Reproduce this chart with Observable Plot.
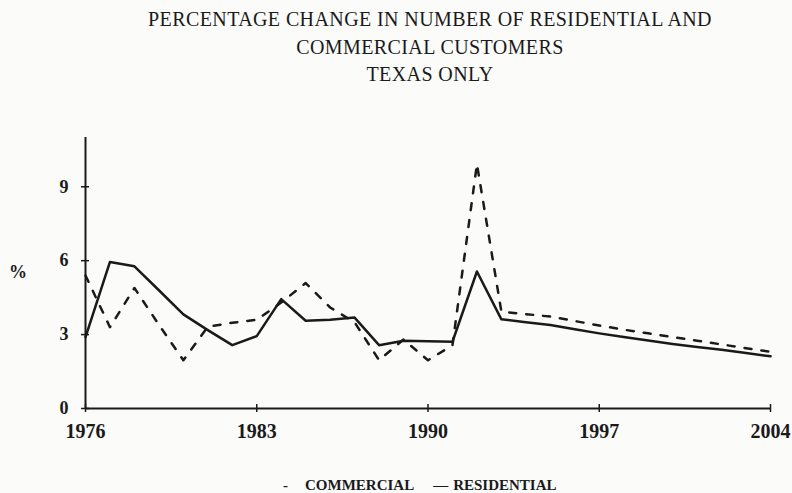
<!DOCTYPE html>
<html>
<head>
<meta charset="utf-8">
<script src="https://cdn.jsdelivr.net/npm/d3@7"></script>
<script src="https://cdn.jsdelivr.net/npm/@observablehq/plot@0.6"></script>
<style>
  html, body { margin: 0; padding: 0; background: #fbfbfa; }
  #wrap { position: relative; width: 792px; height: 493px; overflow: hidden; font-family: "Liberation Serif", "DejaVu Serif", serif; color: #1a1a1a; }
  #title { box-sizing: border-box; width: 792px; height: 90px; padding-top: 6px; padding-left: 68px; text-align: center; font-size: 20px; line-height: 27.5px; letter-spacing: 0.4px; }
  #pct { position: absolute; left: 9px; top: 262px; font-size: 18px; font-weight: bold; }
  #legend { position: absolute; left: 283px; top: 475px; font-size: 15px; font-weight: bold; line-height: 20px; white-space: nowrap; }
  #legend span { display: inline-block; }
</style>
</head>
<body>
<div id="wrap">
  <div id="title">PERCENTAGE CHANGE IN NUMBER OF RESIDENTIAL AND<br>COMMERCIAL CUSTOMERS<br>TEXAS ONLY</div>
  <div id="pct">%</div>
  <div id="chart"></div>
  <div id="legend"><span style="margin-right:17px">-</span><span style="margin-right:19px">COMMERCIAL</span><span style="margin-right:5px">—</span><span>RESIDENTIAL</span></div>
</div>
<script>
const years = [1976,1977,1978,1979,1980,1981,1982,1983,1984,1985,1986,1987,1988,1989,1990,1991,1992,1993,1994,1995,1996,1997,1998,1999,2000,2001,2002,2003,2004];
const residential = [2.9,5.95,5.77,4.8,3.82,3.18,2.57,2.94,4.44,3.56,3.6,3.69,2.57,2.75,2.73,2.71,5.56,3.62,3.5,3.39,3.22,3.05,2.9,2.76,2.62,2.5,2.38,2.25,2.12];
const commercial = [5.4,3.3,4.89,3.4,1.96,3.32,3.48,3.6,4.3,5.09,4.1,3.5,1.96,2.8,1.96,2.57,9.92,3.93,3.83,3.73,3.55,3.37,3.2,3.05,2.9,2.75,2.6,2.45,2.3];
const xTicks = [1976,1983,1990,1997,2004];
const yTicks = [0,3,6,9];

const resData = years.map((y,i) => ({year: y, value: residential[i]}));
const comData = years.map((y,i) => ({year: y, value: commercial[i]}));
const ink = "#1a1a1a";

const chart = Plot.plot({
  width: 792,
  height: 360,
  marginTop: 47,
  marginBottom: 42,
  marginLeft: 85,
  marginRight: 22,
  style: {fontFamily: "Liberation Serif, DejaVu Serif, serif", fontWeight: "bold", color: ink, background: "transparent", overflow: "visible"},
  x: {domain: [1976, 2004], axis: null},
  y: {domain: [0, 11], axis: null},
  marks: [
    Plot.axisX({ticks: xTicks, tickSize: 8, dy: -4, tickFormat: () => "", label: null, stroke: ink, strokeWidth: 1.5}),
    Plot.axisX({ticks: xTicks, tickSize: 0, tickPadding: 15, tickFormat: d => String(d), label: null, fontSize: 20, fill: ink}),
    Plot.axisY({ticks: yTicks, tickSize: 8, dx: 4, tickFormat: () => "", label: null, stroke: ink, strokeWidth: 1.5}),
    Plot.axisY({ticks: yTicks, tickSize: 0, tickPadding: 17, tickFormat: d => String(d), label: null, fontSize: 18, fill: ink}),
    Plot.ruleY([0], {stroke: ink, strokeWidth: 2}),
    Plot.ruleX([1976], {y1: 0, y2: 11, stroke: ink, strokeWidth: 2}),
    Plot.line(comData, {x: "year", y: "value", stroke: ink, strokeWidth: 2.5, strokeDasharray: "7,10"}),
    Plot.line(resData, {x: "year", y: "value", stroke: ink, strokeWidth: 2.5})
  ]
});
document.getElementById("chart").appendChild(chart);
</script>
</body>
</html>
